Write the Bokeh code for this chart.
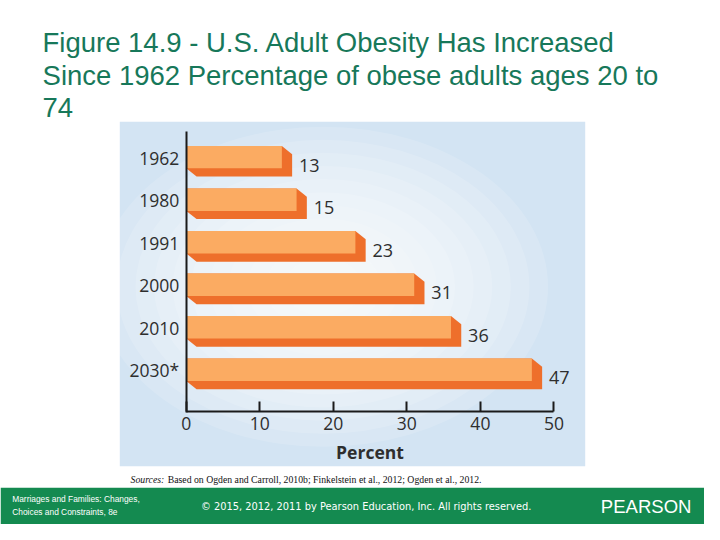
from bokeh.plotting import figure
from bokeh.models import Range1d, LinearAxis, FixedTicker, Label
from bokeh.core.properties import value
from bokeh.embed import file_html
from bokeh.resources import INLINE

# ---------------- data ----------------
years = ["1962", "1980", "1991", "2000", "2010", "2030*"]
percent = [13, 15, 23, 31, 36, 47]
x_ticks = [0, 10, 20, 30, 40, 50]
x_label = "Percent"
title_lines = [
    "Figure 14.9 - U.S. Adult Obesity Has Increased",
    "Since 1962 Percentage of obese adults ages 20 to",
    "74",
]
source_lead = "Sources:"
source_text = "Based on Ogden and Carroll, 2010b; Finkelstein et al., 2012; Ogden et al., 2012."
footer_left = ["Marriages and Families: Changes,", "Choices and Constraints, 8e"]
footer_mid = "\u00a9 2015, 2012, 2011 by Pearson Education, Inc. All rights reserved."
footer_right = "PEARSON"

# ---------------- layout helpers (slide pixel -> data) ----------------
W, H = 704, 524              # canvas; the 720x540 slide is scaled into it
SLIDE_W, SLIDE_H = 720, 540
F = 0.975                    # size scale for fonts / pixel sizes
PXU_X, X0 = 7.52, 190.0      # slide px per percent, slide px of 0 %
PXU_Y, Y0 = 43.8, 162.0      # slide px per row, slide px of first row centre


def xd(rx):
    return (rx - X0) / PXU_X


def yd(ry):
    return (ry - Y0) / PXU_Y


def fs(px):
    return f"{px * F:.2f}px"


p = figure(width=W, height=H, output_backend="svg", toolbar_location=None,
           x_range=Range1d(xd(0), xd(SLIDE_W)),
           y_range=Range1d(yd(SLIDE_H), yd(0)),
           x_axis_location=None, y_axis_location=None,
           min_border=0, outline_line_color=None,
           background_fill_color="white", border_fill_color="white")
p.grid.visible = False

# ---------------- chart background (light blue with soft radial highlight) ----
p.quad(left=[xd(122)], right=[xd(598)], top=[yd(125)], bottom=[yd(480)],
       fill_color="#d3e4f3", line_color=None)
cx, cy = 330, 295
for k in range(11):
    w = 460 - k * 38
    h = 330 - k * 27
    p.ellipse(x=[xd(cx)], y=[yd(cy)], width=[w / PXU_X], height=[h / PXU_Y],
              fill_color="white", fill_alpha=0.14, line_color=None)

# ---------------- 3D bars ----------------
rows = list(range(len(years)))
top_off = -12 / PXU_Y
bot_off = 11 / PXU_Y
ddx = 10.5 / PXU_X
ddy = 8.5 / PXU_Y

xs, ys = [], []
for i, v in zip(rows, percent):
    t, b = i + top_off, i + bot_off
    xs.append([0, v, v + ddx, v + ddx, ddx, 0])
    ys.append([t, t, t + ddy, b + ddy, b + ddy, b])
p.patches(xs=xs, ys=ys, fill_color="#ee6f2b", line_color=None)
p.quad(left=[0] * len(percent), right=percent,
       top=[i + top_off for i in rows], bottom=[i + bot_off for i in rows],
       fill_color="#fbab62", line_color=None)

# value labels
p.text(x=[v + ddx + 7 / PXU_X for v in percent], y=[i + 8 / PXU_Y for i in rows],
       text=[str(v) for v in percent], text_font=value("Open Sans"),
       text_font_size=fs(18.5), text_color="#2e2e2e",
       text_align="left", text_baseline="middle")

# ---------------- axes ----------------
xaxis = LinearAxis(fixed_location=yd(423.5), bounds=(x_ticks[0], x_ticks[-1]),
                   ticker=FixedTicker(ticks=x_ticks), axis_label=x_label)
xaxis.axis_line_width = 2
xaxis.axis_line_color = "#1a1a1a"
xaxis.major_tick_line_width = 2
xaxis.major_tick_line_color = "#1a1a1a"
xaxis.major_tick_in = round(10 * F)
xaxis.major_tick_out = 0
xaxis.minor_tick_line_color = None
xaxis.major_label_standoff = 6
xaxis.major_label_text_font = "Open Sans"
xaxis.major_label_text_font_size = fs(18)
xaxis.major_label_text_color = "#2e2e2e"
xaxis.axis_label_standoff = 6
xaxis.axis_label_text_font = "Open Sans"
xaxis.axis_label_text_font_size = fs(18)
xaxis.axis_label_text_font_style = "bold"
xaxis.axis_label_text_color = "#2e2e2e"
p.add_layout(xaxis, "below")

yaxis = LinearAxis(fixed_location=0, bounds=(yd(135), yd(424.5)),
                   ticker=FixedTicker(ticks=rows),
                   major_label_overrides={i: y for i, y in zip(rows, years)})
yaxis.axis_line_width = 2
yaxis.axis_line_color = "#1a1a1a"
yaxis.major_tick_line_color = None
yaxis.minor_tick_line_color = None
yaxis.major_tick_in = 0
yaxis.major_tick_out = 0
yaxis.major_label_standoff = 7
yaxis.major_label_orientation = "horizontal"
yaxis.major_label_text_font = "Open Sans"
yaxis.major_label_text_font_size = fs(18)
yaxis.major_label_text_color = "#2e2e2e"
p.add_layout(yaxis, "left")

# ---------------- slide title ----------------
for k, line in enumerate(title_lines):
    p.add_layout(Label(x=xd(43), y=yd(43.5 + k * 33.5), text=line,
                       text_font="Liberation Sans", text_font_size=fs(28.2),
                       text_color="#17785a", text_align="left",
                       text_baseline="alphabetic"))

# ---------------- sources ----------------
p.add_layout(Label(x=xd(133), y=yd(494), text=source_lead,
                   text_font="Liberation Serif", text_font_size=fs(10),
                   text_font_style="italic", text_color="#111111",
                   text_baseline="middle"))
p.add_layout(Label(x=xd(171), y=yd(494), text=source_text,
                   text_font="Liberation Serif", text_font_size=fs(10),
                   text_color="#111111", text_baseline="middle"))

# ---------------- footer ----------------
p.quad(left=[xd(0)], right=[xd(SLIDE_W)], top=[yd(502)], bottom=[yd(SLIDE_H)],
       fill_color="#148a50", line_color=None)
for k, line in enumerate(footer_left):
    p.add_layout(Label(x=xd(12), y=yd(514 + k * 13), text=line,
                       text_font="Liberation Sans", text_font_size=fs(8.6),
                       text_color="white", text_baseline="middle"))
p.add_layout(Label(x=xd(205), y=yd(521), text=footer_mid,
                   text_font="DejaVu Sans", text_font_size=fs(10.1),
                   text_color="white", text_baseline="middle"))
p.add_layout(Label(x=xd(614), y=yd(521), text=footer_right,
                   text_font="Liberation Sans", text_font_size=fs(19),
                   text_color="white", text_baseline="middle"))

open("out.html", "w").write(file_html(p, INLINE))
